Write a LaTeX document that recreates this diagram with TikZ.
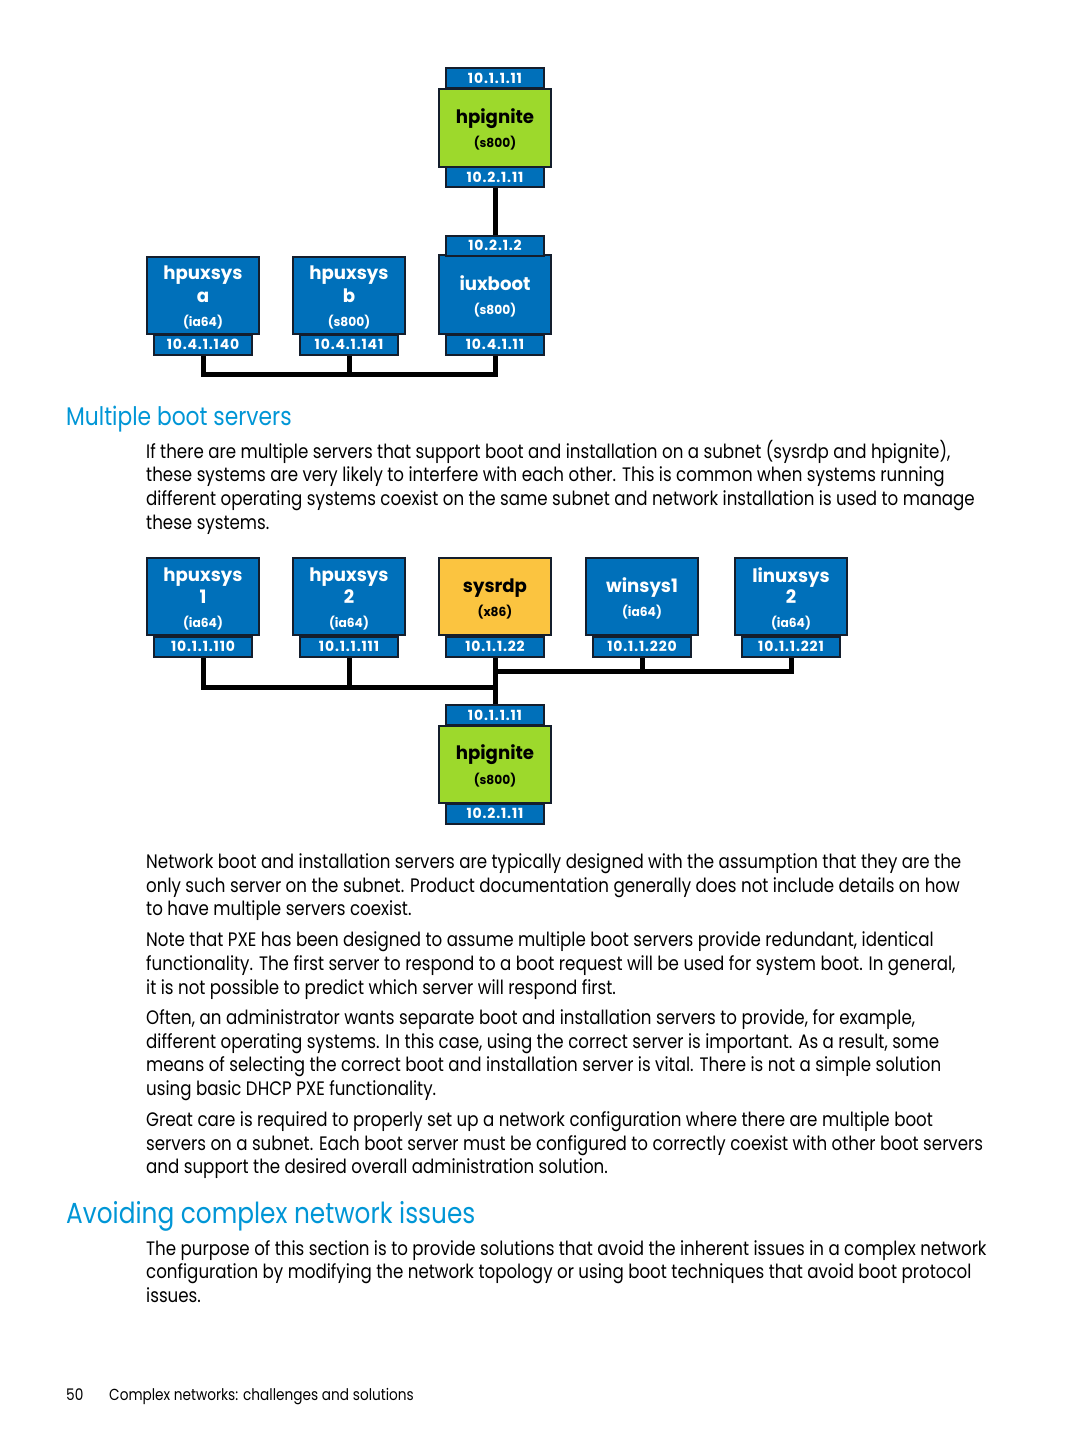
\documentclass[tikz,border=0pt]{standalone}
\usepackage{fontspec}
\setmainfont{Poppins}[FakeStretch=0.855]
\newfontfamily\boxfont{Poppins}[FakeStretch=0.98]
\newfontfamily\ipfont{Poppins}[LetterSpace=6]
\usetikzlibrary{backgrounds}
\definecolor{hpblue}{RGB}{0,112,186}
\definecolor{hpgreen}{RGB}{157,217,44}
\definecolor{hpyellow}{RGB}{251,196,64}
\definecolor{edge}{RGB}{20,30,45}
\definecolor{headblue}{RGB}{0,150,214}
\tikzset{
  srv/.style={draw=edge, line width=2pt, minimum width=112pt, minimum height=77pt, inner sep=0pt},
  bluesrv/.style={srv, fill=hpblue},
  greensrv/.style={srv, fill=hpgreen},
  yellowsrv/.style={srv, fill=hpyellow},
  ipbox/.style={draw=edge, line width=2pt, fill=hpblue, minimum width=98pt, minimum height=20pt, inner sep=0pt, text=white, font=\ipfont\bfseries\fontsize{14}{14}\selectfont, text height=10pt, text depth=0pt},
  nm/.style={inner sep=0pt, font=\boxfont\bfseries\fontsize{18.5}{18.5}\selectfont, text height=13pt, text depth=0pt},
  arch/.style={inner sep=0pt, font=\boxfont\bfseries\fontsize{12.5}{12.5}\selectfont, text height=9pt, text depth=0pt},
  wt/.style={text=white},
  wire/.style={line width=5pt, line join=miter, draw=black},
  body/.style={anchor=base west, inner sep=0pt, font=\fontsize{19.5}{23.5}\selectfont},
  head/.style={anchor=base west, inner sep=0pt, text=headblue},
}
\begin{document}
\begin{tikzpicture}[x=1pt,y=-1pt]
\useasboundingbox (0,0) rectangle (1080,1438);
% ---------- top diagram ----------
\node[greensrv, minimum height=78pt] (thpi) at (495,128) {};
\node[ipbox] (thpiipt) at (495,78) {10.1.1.11};
\node[ipbox] (thpiipb) at (495,177) {10.2.1.11};
\node[nm] (thpin) at (495,116.5) {hpignite};
\node[arch] (thpia) at (495,142.5) {(s800)};

\node[bluesrv, minimum height=79pt] (tiux) at (495,294.5) {};
\node[ipbox] (tiuxipt) at (495,245.5) {10.2.1.2};
\node[ipbox] (tiuxipb) at (495,344.5) {10.4.1.11};
\node[nm, wt] (tiuxn) at (495,284) {iuxboot};
\node[arch, wt] (tiuxa) at (495,310) {(s800)};

\node[bluesrv] (ta) at (203,295.5) {};
\node[ipbox] (taip) at (203,344.5) {10.4.1.140};
\node[nm, wt] (tan) at (203,273) {hpuxsys};
\node[nm, wt] (tan2) at (203,295.5) {a};
\node[arch, wt] (taa) at (203,321.5) {(ia64)};

\node[bluesrv] (tb) at (349,295.5) {};
\node[ipbox] (tbip) at (349,344.5) {10.4.1.141};
\node[nm, wt] (tbn) at (349,273) {hpuxsys};
\node[nm, wt] (tbn2) at (349,295.5) {b};
\node[arch, wt] (tba) at (349,321.5) {(s800)};

% ---------- second diagram ----------
\node[bluesrv] (b1) at (203,596.5) {};
\node[ipbox] (b1ip) at (203,646.5) {10.1.1.110};
\node[nm, wt] (b1n) at (203,575) {hpuxsys};
\node[nm, wt] (b1n2) at (203,597) {1};
\node[arch, wt] (b1a) at (203,623) {(ia64)};

\node[bluesrv] (b2) at (349,596.5) {};
\node[ipbox] (b2ip) at (349,646.5) {10.1.1.111};
\node[nm, wt] (b2n) at (349,575) {hpuxsys};
\node[nm, wt] (b2n2) at (349,597) {2};
\node[arch, wt] (b2a) at (349,623) {(ia64)};

\node[yellowsrv] (b3) at (495,596.5) {};
\node[ipbox] (b3ip) at (495,646.5) {10.1.1.22};
\node[nm] (b3n) at (495,586) {sysrdp};
\node[arch] (b3a) at (495,612) {(x86)};

\node[bluesrv] (b4) at (642,596.5) {};
\node[ipbox] (b4ip) at (642,646.5) {10.1.1.220};
\node[nm, wt] (b4n) at (642,586) {winsys1};
\node[arch, wt] (b4a) at (642,612) {(ia64)};

\node[bluesrv] (b5) at (791,596.5) {};
\node[ipbox] (b5ip) at (791,646.5) {10.1.1.221};
\node[nm, wt] (b5n) at (791,576) {linuxsys};
\node[nm, wt] (b5n2) at (791,597) {2};
\node[arch, wt] (b5a) at (791,623) {(ia64)};

\node[greensrv] (bhpi) at (495,764) {};
\node[ipbox] (bhpiipt) at (495,715) {10.1.1.11};
\node[ipbox] (bhpiipb) at (495,813.5) {10.2.1.11};
\node[nm] (bhpin) at (495,753) {hpignite};
\node[arch] (bhpia) at (495,780) {(s800)};

% ---------- wires (behind) ----------
\begin{pgfonlayer}{background}
\fill[white] (0,0) rectangle (1080,1438);
\coordinate (tbus) at (203,374);
\draw[wire] (taip.south) -- (tbus) -| (tiuxipb.south);
\draw[wire] (tbip.south) -- (tbip.south |- tbus);
\draw[wire] (thpiipb.south) -- (tiuxipt.north);
\coordinate (lbus) at (203,687);
\coordinate (rbus) at (791,671.5);
\draw[wire] (b1ip.south) -- (lbus) -- (b3ip.south |- lbus);
\draw[wire] (b2ip.south) -- (b2ip.south |- lbus);
\draw[wire] (b3ip.south) -- (bhpiipt.north);
\draw[wire] (b5ip.south) -- (rbus) -- (b3ip.south |- rbus);
\draw[wire] (b4ip.south) -- (b4ip.south |- rbus);
\end{pgfonlayer}

% ---------- text ----------
\node[head, font=\fontsize{25.5}{25.5}\selectfont] (h1) at (66,425) {Multiple boot servers};
\node[body] (p1a) at (146,458) {If there are multiple servers that support boot and installation on a subnet (sysrdp and hpignite),};
\node[body] (p1b) at (146,481.5) {these systems are very likely to interfere with each other. This is common when systems running};
\node[body] (p1c) at (146,505.5) {different operating systems coexist on the same subnet and network installation is used to manage};
\node[body] (p1d) at (146,529) {these systems.};

\node[body] (p2a) at (146,868) {Network boot and installation servers are typically designed with the assumption that they are the};
\node[body] (p2b) at (146,892) {only such server on the subnet. Product documentation generally does not include details on how};
\node[body] (p2c) at (146,915) {to have multiple servers coexist.};

\node[body] (p3a) at (146,946) {Note that PXE has been designed to assume multiple boot servers provide redundant, identical};
\node[body] (p3b) at (146,970) {functionality. The first server to respond to a boot request will be used for system boot. In general,};
\node[body] (p3c) at (146,994) {it is not possible to predict which server will respond first.};

\node[body] (p4a) at (146,1024) {Often, an administrator wants separate boot and installation servers to provide, for example,};
\node[body] (p4b) at (146,1048) {different operating systems. In this case, using the correct server is important. As a result, some};
\node[body] (p4c) at (146,1071) {means of selecting the correct boot and installation server is vital. There is not a simple solution};
\node[body] (p4d) at (146,1095) {using basic DHCP PXE functionality.};

\node[body] (p5a) at (146,1126) {Great care is required to properly set up a network configuration where there are multiple boot};
\node[body] (p5b) at (146,1150) {servers on a subnet. Each boot server must be configured to correctly coexist with other boot servers};
\node[body] (p5c) at (146,1173) {and support the desired overall administration solution.};

\node[head, font=\fontsize{29}{29}\selectfont] (h2) at (66,1223) {Avoiding complex network issues};
\node[body] (p6a) at (146,1255) {The purpose of this section is to provide solutions that avoid the inherent issues in a complex network};
\node[body] (p6b) at (146,1278.5) {configuration by modifying the network topology or using boot techniques that avoid boot protocol};
\node[body] (p6c) at (146,1302) {issues.};

\node[anchor=base west, inner sep=0pt, font=\fontsize{16}{16}\selectfont] (pgno) at (66,1400) {50};
\node[anchor=base west, inner sep=0pt, font=\fontsize{16}{16}\selectfont] (foot) at (109,1400) {Complex networks: challenges and solutions};
\end{tikzpicture}
\end{document}
